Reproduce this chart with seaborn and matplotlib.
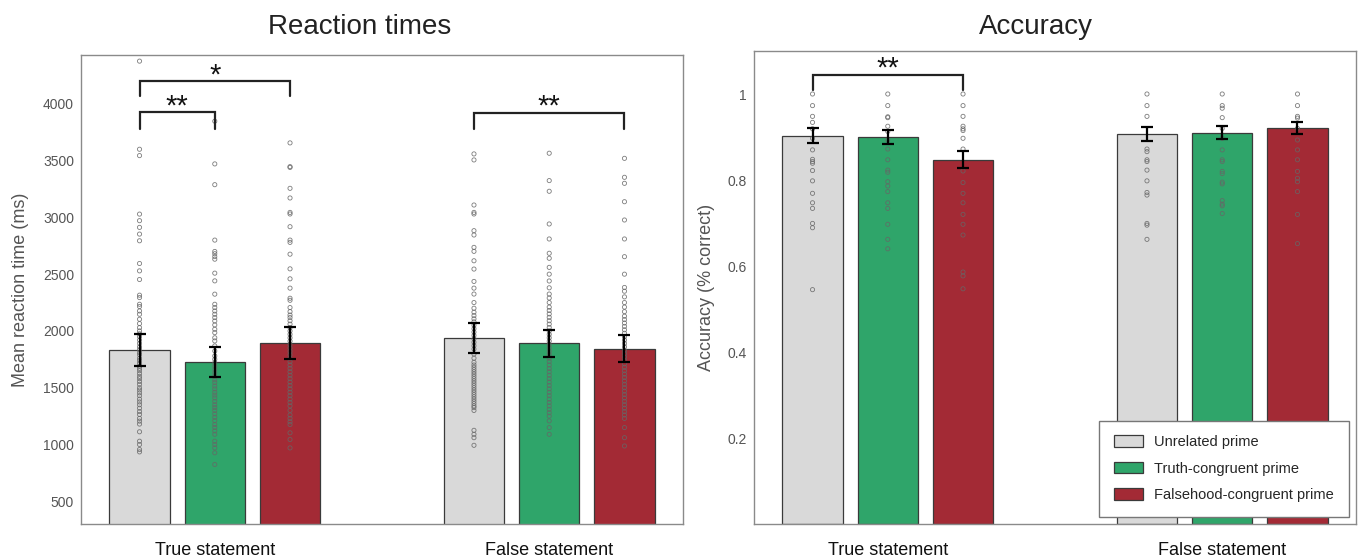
import pandas as pd
import seaborn as sns
import matplotlib.pyplot as plt
from matplotlib.patches import Patch
from matplotlib.ticker import FuncFormatter

statements = ["True statement", "False statement"]
primes = ["Unrelated prime", "Truth-congruent prime", "Falsehood-congruent prime"]
colors = ["#d9d9d9", "#2fa56a", "#a32a35"]

# group means and SEM, ordered [statement][prime]
rt_mean = [[1830, 1727, 1894], [1940, 1892, 1845]]
rt_sem = [[140, 130, 140], [130, 118, 122]]
acc_mean = [[0.903, 0.900, 0.847], [0.907, 0.910, 0.922]]
acc_sem = [[0.017, 0.017, 0.020], [0.016, 0.015, 0.014]]

# individual participants, reaction times (ms)
rt_true_unrelated = [4376, 3600, 3544, 3029, 2971, 2912, 2853, 2794, 2594, 2529, 2453, 2315,
                     2294, 2235, 2215, 2176, 2147, 2103, 2065, 2029, 2000, 1975, 1950, 1920,
                     1890, 1860, 1835, 1810, 1790, 1760, 1740, 1715, 1690, 1670, 1650, 1625,
                     1600, 1580, 1555, 1530, 1500, 1480, 1455, 1430, 1400, 1375, 1350, 1320,
                     1290, 1265, 1230, 1206, 1180, 1112, 1029, 1000, 956, 935]
rt_true_truth = [3847, 3471, 3288, 2800, 2700, 2680, 2655, 2632, 2509, 2441, 2324, 2235,
                 2206, 2176, 2147, 2118, 2088, 2053, 2015, 1985, 1940, 1912, 1868, 1824,
                 1780, 1750, 1720, 1690, 1660, 1630, 1600, 1570, 1545, 1515, 1490, 1460,
                 1435, 1410, 1380, 1350, 1325, 1300, 1270, 1240, 1210, 1176, 1150, 1120,
                 1090, 1029, 1000, 970, 927, 824]
rt_true_false = [3656, 3447, 3440, 3256, 3171, 3044, 3030, 2918, 2800, 2780, 2676, 2547,
                 2459, 2377, 2288, 2270, 2206, 2170, 2140, 2118, 2090, 2060, 2030, 2000,
                 1970, 1940, 1910, 1880, 1850, 1820, 1790, 1760, 1730, 1700, 1670, 1640,
                 1610, 1580, 1550, 1520, 1490, 1460, 1430, 1400, 1370, 1340, 1300, 1260,
                 1230, 1200, 1176, 1103, 1044, 970]
rt_false_unrelated = [3559, 3506, 3109, 3044, 3030, 2883, 2845, 2736, 2701, 2618, 2545, 2436,
                      2377, 2325, 2250, 2200, 2165, 2135, 2107, 2080, 2050, 2020, 1990, 1960,
                      1930, 1900, 1870, 1840, 1797, 1760, 1724, 1700, 1680, 1660, 1640, 1620,
                      1600, 1580, 1560, 1540, 1520, 1500, 1480, 1460, 1440, 1420, 1400, 1380,
                      1360, 1340, 1325, 1300, 1125, 1090, 1060, 993]
rt_false_truth = [3565, 3324, 3230, 2942, 2810, 2684, 2640, 2560, 2500, 2440, 2380, 2325,
                  2290, 2250, 2210, 2180, 2150, 2120, 2090, 2060, 2030, 2000, 1970, 1940,
                  1910, 1880, 1850, 1820, 1790, 1760, 1730, 1700, 1670, 1640, 1610, 1580,
                  1550, 1520, 1490, 1460, 1430, 1400, 1370, 1340, 1310, 1280, 1250, 1208,
                  1149, 1090]
rt_false_false = [3520, 3353, 3300, 3138, 2977, 2810, 2654, 2500, 2383, 2350, 2300, 2250,
                  2210, 2170, 2130, 2100, 2070, 2040, 2010, 1980, 1950, 1920, 1890, 1860,
                  1830, 1800, 1770, 1740, 1710, 1680, 1650, 1620, 1590, 1560, 1530, 1500,
                  1470, 1440, 1410, 1380, 1350, 1320, 1290, 1260, 1230, 1149, 1060, 987]

# individual participants, accuracy
acc_true_unrelated = [1.0, 0.973, 0.948, 0.934, 0.919, 0.897, 0.870, 0.848, 0.843, 0.839,
                      0.822, 0.798, 0.769, 0.747, 0.734, 0.699, 0.689, 0.545]
acc_true_truth = [1.0, 0.973, 0.947, 0.945, 0.925, 0.913, 0.893, 0.872, 0.847, 0.823,
                  0.818, 0.796, 0.786, 0.773, 0.747, 0.734, 0.697, 0.662, 0.640]
acc_true_false = [1.0, 0.973, 0.948, 0.925, 0.919, 0.915, 0.897, 0.872, 0.821, 0.794,
                  0.769, 0.747, 0.720, 0.697, 0.672, 0.586, 0.577, 0.547]
acc_false_unrelated = [1.0, 0.973, 0.948, 0.872, 0.866, 0.847, 0.843, 0.823, 0.798, 0.771,
                       0.765, 0.699, 0.695, 0.662]
acc_false_truth = [1.0, 0.973, 0.967, 0.945, 0.920, 0.897, 0.870, 0.847, 0.843, 0.820,
                   0.815, 0.795, 0.791, 0.752, 0.744, 0.740, 0.722]
acc_false_false = [1.0, 0.973, 0.948, 0.944, 0.920, 0.893, 0.870, 0.847, 0.820, 0.804,
                   0.796, 0.773, 0.720, 0.652]

rt_points = [[rt_true_unrelated, rt_true_truth, rt_true_false],
             [rt_false_unrelated, rt_false_truth, rt_false_false]]
acc_points = [[acc_true_unrelated, acc_true_truth, acc_true_false],
              [acc_false_unrelated, acc_false_truth, acc_false_false]]

sns.set_style("white")
plt.rcParams["font.family"] = ["Liberation Sans", "DejaVu Sans"]


def make_df(means, sems):
    rows = []
    for i, st in enumerate(statements):
        for j, pr in enumerate(primes):
            rows.append({"statement": st, "prime": pr, "value": means[i][j], "sem": sems[i][j]})
    return pd.DataFrame(rows)


def draw_panel(ax, means, sems, points, ylabel, ylim, yticks, labelpad):
    df = make_df(means, sems)
    sns.barplot(data=df, x="statement", y="value", hue="prime", order=statements,
                hue_order=primes, palette=colors, saturation=1, width=0.675, gap=0.2,
                edgecolor="#3a3a3a", linewidth=0.9, errorbar=None, legend=False, ax=ax)
    bar_sets = list(ax.containers)
    centers = {}
    for j, cont in enumerate(bar_sets):
        for i, bar in enumerate(cont.patches):
            xc = bar.get_x() + bar.get_width() / 2
            centers[(i, j)] = xc
            vals = points[i][j]
            ax.scatter([xc] * len(vals), vals, s=9, facecolors="none",
                       edgecolors="#666666", linewidths=0.6, alpha=0.85, zorder=3)
            ax.errorbar(xc, means[i][j], yerr=sems[i][j], fmt="none", ecolor="black",
                        elinewidth=1.6, capsize=4.5, capthick=1.6, zorder=4)
    ax.set_xlim(-0.4, 1.4)
    ax.set_ylim(*ylim)
    ax.set_yticks(yticks)
    ax.yaxis.set_major_formatter(FuncFormatter(lambda v, p: "%g" % v))
    ax.set_xlabel("")
    ax.set_ylabel(ylabel, fontsize=13, color="#555555", labelpad=labelpad)
    ax.tick_params(axis="y", length=0, pad=5, labelsize=10, labelcolor="#555555")
    ax.tick_params(axis="x", length=0, pad=13, labelsize=13, labelcolor="#111111")
    for sp in ax.spines.values():
        sp.set_visible(True)
        sp.set_color("#8a8a8a")
        sp.set_linewidth(1.0)
    return centers


def bracket(ax, x1, x2, top, foot, text):
    ax.plot([x1, x1, x2, x2], [foot, top, top, foot], color="#222222", lw=1.6,
            solid_joinstyle="miter", zorder=5)
    ax.annotate(text, xy=((x1 + x2) / 2, top), xytext=(0, -1.5), textcoords="offset points",
                ha="center", va="baseline", fontsize=21, color="#111111")


fig = plt.figure(figsize=(13.62, 5.6), dpi=100)
ax1 = fig.add_axes([81 / 1362, 36 / 560, 602 / 1362, 469 / 560])
ax2 = fig.add_axes([754 / 1362, 36 / 560, 602 / 1362, 473 / 560])

c1 = draw_panel(ax1, rt_mean, rt_sem, rt_points, "Mean reaction time (ms)",
                (300, 4430), range(500, 4001, 500), 10)
c2 = draw_panel(ax2, acc_mean, acc_sem, acc_points, "Accuracy (% correct)",
                (0, 1.1), [0.2, 0.4, 0.6, 0.8, 1.0], 9)

bracket(ax1, c1[(0, 0)], c1[(0, 1)], 3925, 3780, "**")
bracket(ax1, c1[(0, 0)], c1[(0, 2)], 4200, 4065, "*")
bracket(ax1, c1[(1, 0)], c1[(1, 2)], 3920, 3780, "**")
bracket(ax2, c2[(0, 0)], c2[(0, 2)], 1.045, 1.009, "**")

handles = [Patch(facecolor=c, edgecolor="#3a3a3a", linewidth=0.9) for c in colors]
leg = ax2.legend(handles, primes, loc="lower right", fontsize=10.5, frameon=True,
                 fancybox=False, framealpha=1, edgecolor="#777777", borderpad=1.0,
                 labelspacing=0.85, handlelength=2.0, handleheight=0.85, handletextpad=0.8)
leg.get_frame().set_linewidth(1.0)

fig.text(360 / 1362, 1 - 27 / 560, "Reaction times", ha="center", va="center",
         fontsize=20, color="#222222")
fig.text(1036 / 1362, 1 - 27 / 560, "Accuracy", ha="center", va="center",
         fontsize=20, color="#222222")

fig.savefig("out.png", dpi=100)
